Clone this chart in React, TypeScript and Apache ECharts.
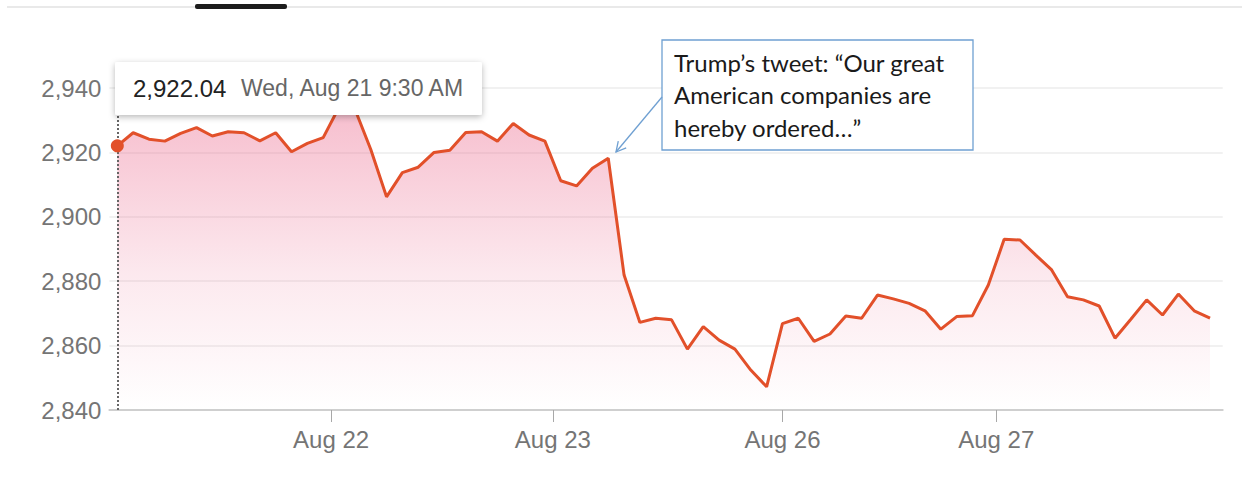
import React, { useEffect, useRef } from "react";
import * as echarts from "echarts";

// ---- data ----
const dayLabels = ["Aug 22", "Aug 23", "Aug 26", "Aug 27"];
const dayTickPositions = [13.5, 27.5, 42, 55.5];
const yMin = 2840;
const yMax = 2940;
const yStep = 20;

// S&P 500, 30-minute closes, Aug 21 – Aug 27
const aug21 = [2922.04, 2926.1, 2924.1, 2923.5, 2925.9, 2927.7, 2925.1, 2926.4, 2926.1, 2923.6, 2926.1, 2920.2, 2922.8, 2924.6];
const aug22 = [2934.0, 2933.5, 2921.0, 2906.2, 2913.7, 2915.4, 2920.0, 2920.7, 2926.2, 2926.4, 2923.5, 2929.0, 2925.4, 2923.5];
const aug23 = [2911.2, 2909.6, 2915.1, 2918.2, 2881.9, 2867.2, 2868.5, 2868.0, 2858.9, 2865.9, 2861.7, 2858.9, 2852.4, 2847.2];
const aug26 = [2866.8, 2868.5, 2861.3, 2863.6, 2869.2, 2868.5, 2875.7, 2874.5, 2873.1, 2870.8, 2865.1, 2869.0, 2869.3, 2878.8];
const aug27 = [2893.0, 2892.8, 2888.1, 2883.5, 2875.2, 2874.2, 2872.3, 2862.3, 2868.2, 2874.2, 2869.5, 2876.0, 2870.8, 2868.5];
const prices = [...aug21, ...aug22, ...aug23, ...aug26, ...aug27];

const hoverIndex = 0;
const hoverDateText = "Wed, Aug 21 9:30 AM";
const annotationText = "Trump\u2019s tweet: \u201cOur great\nAmerican companies are\nhereby ordered\u2026\u201d";

const LINE_COLOR = "#e2502a";
const AXIS_FONT = "'Liberation Sans', Arial, sans-serif";

export default function App() {
  const ref = useRef<HTMLDivElement>(null);

  useEffect(() => {
    if (!ref.current) return;
    const chart = echarts.init(ref.current, undefined, { renderer: "svg" });

    const fmtInt = (v: number) => v.toLocaleString("en-US");
    const hoverValue = prices[hoverIndex].toLocaleString("en-US", {
      minimumFractionDigits: 2,
      maximumFractionDigits: 2,
    });

    // arrow geometry (annotation, layout only)
    const ax0 = 662, ay0 = 97, ax1 = 616, ay1 = 152;
    const dx = ax1 - ax0, dy = ay1 - ay0;
    const len = Math.sqrt(dx * dx + dy * dy);
    const ux = dx / len, uy = dy / len;
    const headLen = 11, ang = (28 * Math.PI) / 180;
    const rot = (x: number, y: number, a: number) => [x * Math.cos(a) - y * Math.sin(a), x * Math.sin(a) + y * Math.cos(a)];
    const h1 = rot(-ux, -uy, ang);
    const h2 = rot(-ux, -uy, -ang);

    chart.setOption({
      animation: false,
      backgroundColor: "#ffffff",
      grid: { left: 109.4, right: 29.3, top: 88, bottom: 71, containLabel: false },
      xAxis: {
        type: "value",
        min: -0.5,
        max: 69.8,
        splitLine: { show: false },
        axisLine: { show: true, lineStyle: { color: "#cfcfcf", width: 2 } },
        axisTick: {
          show: true,
          customValues: dayTickPositions,
          length: 12,
          lineStyle: { color: "#a8a8a8", width: 1 },
        },
        axisLabel: {
          customValues: dayTickPositions,
          formatter: (v: number) => {
            const i = dayTickPositions.findIndex((p) => Math.abs(p - v) < 1e-6);
            return i >= 0 ? dayLabels[i] : "";
          },
          color: "#757575",
          fontSize: 24,
          fontFamily: AXIS_FONT,
          margin: 17,
        },
      },
      yAxis: {
        type: "value",
        min: yMin,
        max: yMax,
        interval: yStep,
        axisLine: { show: false },
        axisTick: { show: false },
        splitLine: { show: true, lineStyle: { color: "#ededed", width: 1.5 } },
        axisLabel: {
          formatter: (v: number) => fmtInt(v),
          color: "#757575",
          fontSize: 24,
          fontFamily: AXIS_FONT,
          margin: 8,
        },
      },
      series: [
        {
          type: "line",
          data: prices.map((v, i) => [i, v]),
          showSymbol: false,
          symbol: "none",
          lineStyle: { color: LINE_COLOR, width: 3 },
          itemStyle: { color: LINE_COLOR },
          areaStyle: {
            origin: "start",
            color: new echarts.graphic.LinearGradient(0, 0, 0, 1, [
              { offset: 0, color: "rgba(236,110,145,0.64)" },
              { offset: 0.55, color: "rgba(236,110,145,0.22)" },
              { offset: 1, color: "rgba(236,110,145,0)" },
            ]),
          },
          markLine: {
            silent: true,
            symbol: ["none", "none"],
            label: { show: false },
            lineStyle: { color: "#666666", type: "dotted", width: 2 },
            data: [{ xAxis: hoverIndex }],
          },
          z: 3,
        },
        {
          type: "scatter",
          data: [[hoverIndex, prices[hoverIndex]]],
          symbolSize: 13,
          itemStyle: { color: LINE_COLOR, opacity: 1 },
          z: 5,
        },
      ],
      graphic: [
        { type: "rect", z: 100, shape: { x: 7, y: 6, width: 1235, height: 2 }, style: { fill: "#e9e9e9" } },
        { type: "rect", z: 101, shape: { x: 195, y: 4, width: 92, height: 5, r: 2 }, style: { fill: "#1c1c1c" } },
        {
          type: "rect",
          z: 100,
          shape: { x: 115, y: 62, width: 367, height: 53, r: 2 },
          style: { fill: "#ffffff", shadowBlur: 6, shadowColor: "rgba(0,0,0,0.28)", shadowOffsetY: 2 },
        },
        {
          type: "text",
          z: 101,
          x: 133,
          y: 88,
          style: { text: hoverValue, fill: "#222222", font: `24px ${AXIS_FONT}`, verticalAlign: "middle" },
        },
        {
          type: "text",
          z: 101,
          x: 241,
          y: 88,
          style: { text: hoverDateText, fill: "#666666", font: `23px ${AXIS_FONT}`, verticalAlign: "middle" },
        },
        {
          type: "rect",
          z: 100,
          shape: { x: 662, y: 40, width: 311, height: 110 },
          style: { fill: "#ffffff", stroke: "#6fa0d2", lineWidth: 1.3 },
        },
        {
          type: "text",
          z: 101,
          x: 674,
          y: 46,
          style: {
            text: annotationText,
            fill: "#1a1a1a",
            font: "24px Lato, 'Open Sans', sans-serif",
            lineHeight: 32.5,
            verticalAlign: "top",
          },
        },
        {
          type: "line",
          z: 101,
          shape: { x1: ax0, y1: ay0, x2: ax1, y2: ay1 },
          style: { stroke: "#6fa0d2", lineWidth: 1.3 },
        },
        {
          type: "polyline",
          z: 101,
          shape: {
            points: [
              [ax1 + h1[0] * headLen, ay1 + h1[1] * headLen],
              [ax1, ay1],
              [ax1 + h2[0] * headLen, ay1 + h2[1] * headLen],
            ],
          },
          style: { stroke: "#6fa0d2", lineWidth: 1.3, fill: "none" },
        },
      ],
    });

    return () => chart.dispose();
  }, []);

  return (
    <div
      ref={ref}
      style={{ position: "fixed", left: 0, top: 0, width: 1252, height: 481, background: "#fff" }}
    />
  );
}
